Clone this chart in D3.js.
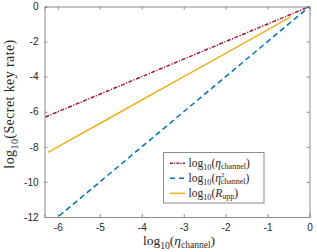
<!DOCTYPE html>
<html>
<head>
<meta charset="utf-8">
<script src="https://cdn.jsdelivr.net/npm/d3@7"></script>
<style>
  body { margin: 0; background: #fff; }
  .tick text { font-family: "Liberation Sans", Arial, sans-serif; font-size: 10px; fill: #262626; }
  .math { font-family: "Liberation Serif", "DejaVu Serif", serif; fill: #262626; }
</style>
</head>
<body>
<div id="chart"></div>
<script>
// values (x = log10 eta)
var xTicks = [-6, -5, -4, -3, -2, -1, 0];
var yTicks = [-12, -10, -8, -6, -4, -2, 0];

var etaX   = [-6.3, -5, -4, -3, -2, -1, 0];
var etaY   = [-6.3, -5, -4, -3, -2, -1, 0];
var eta2X  = [-6.3, -5, -4, -3, -2, -1, 0];
var eta2Y  = [-12.6, -10, -8, -6, -4, -2, 0];
var ruppX  = [-6.24, -5, -4, -3, -2, -1, -0.44];
var ruppY  = [-8.32, -6.67, -5.33, -4.0, -2.67, -1.33, -0.58];

var W = 317, H = 252;
var margin = {top: 6.5, right: 7.5, bottom: 35, left: 44.5};
var width = W - margin.left - margin.right,
    height = H - margin.top - margin.bottom;

var xScale = d3.scaleLinear().domain([-6.32, 0]).range([0, width]);
var yScale = d3.scaleLinear().domain([-12, 0]).range([height, 0]);

var svg = d3.select("#chart").append("svg")
    .attr("width", W).attr("height", H);

var g = svg.append("g")
    .attr("transform", "translate(" + margin.left + "," + margin.top + ")");

g.append("clipPath").attr("id", "clip")
  .append("rect").attr("width", width).attr("height", height);

var axisColor = "#8c8c8c";
var fmt = function(d) { return String(d); };

// axes (ticks pointing inward, box on)
var xAxis = d3.axisBottom(xScale).tickValues(xTicks).tickSize(-3).tickPadding(7).tickFormat(fmt);
var yAxis = d3.axisLeft(yScale).tickValues(yTicks).tickSize(-3).tickPadding(6).tickFormat(fmt);

g.append("g").attr("transform", "translate(0," + height + ")").call(xAxis);
g.append("g").call(yAxis);
g.append("g").call(d3.axisTop(xScale).tickValues(xTicks).tickSize(-3).tickFormat(""));
g.append("g").attr("transform", "translate(" + width + ",0)")
  .call(d3.axisRight(yScale).tickValues(yTicks).tickSize(-3).tickFormat(""));
g.selectAll(".domain, .tick line").attr("stroke", axisColor);

var line = d3.line()
    .x(function(d) { return xScale(d[0]); })
    .y(function(d) { return yScale(d[1]); });

var series = [
  {x: etaX,  y: etaY,  color: "#A2142F", dash: "4,1.5,1.2,1.5"},
  {x: eta2X, y: eta2Y, color: "#0072BD", dash: "5.5,3.5"},
  {x: ruppX, y: ruppY, color: "#EDB120", dash: null}
];

series.forEach(function(s) {
  g.append("path")
    .datum(d3.zip(s.x, s.y))
    .attr("clip-path", "url(#clip)")
    .attr("fill", "none")
    .attr("stroke", s.color)
    .attr("stroke-width", 1.5)
    .attr("stroke-dasharray", s.dash)
    .attr("d", line);
});

// legend
var leg = svg.append("g").attr("transform", "translate(163.5,152.5)");
leg.append("rect").attr("width", 100.5).attr("height", 50.5)
  .attr("fill", "#fff").attr("stroke", axisColor).attr("stroke-width", 1);

function logLabel(sel, size) {
  sel.append("tspan").text("log");
  sel.append("tspan").attr("font-size", size * 0.72).attr("dy", size * 0.3).text("10");
  sel.append("tspan").attr("dy", -size * 0.3).text("(");
}

[0, 1, 2].forEach(function(i) {
  var y = 10.8 + i * 15;
  var s = series[i];
  leg.append("line").attr("x1", 6.5).attr("x2", 21.5).attr("y1", y).attr("y2", y)
    .attr("stroke", s.color).attr("stroke-width", 1.5)
    .attr("stroke-dasharray", i === 0 ? "3,1.2,1,1.2" : (i === 1 ? "5,4" : null));
  var t = leg.append("text").attr("class", "math").attr("x", 25).attr("y", y + 3.5)
    .attr("font-size", 11.5);
  logLabel(t, 11.5);
  if (i === 2) {
    t.append("tspan").attr("font-style", "italic").text("R");
    t.append("tspan").attr("font-size", 8).attr("dy", 2.5).text("upp");
    t.append("tspan").attr("dy", -2.5).text(")");
  } else {
    t.append("tspan").attr("font-style", "italic").text("η");
    if (i === 1) {
      t.append("tspan").attr("font-size", 7).attr("dy", -4.5).text("2");
      t.append("tspan").attr("font-size", 8).attr("dx", -3.9).attr("dy", 7).text("channel");
      t.append("tspan").attr("dy", -2.5).text(")");
    } else {
      t.append("tspan").attr("font-size", 8).attr("dy", 2.5).text("channel");
      t.append("tspan").attr("dy", -2.5).text(")");
    }
  }
});

// x label
var xl = svg.append("text").attr("class", "math").attr("text-anchor", "middle")
  .attr("x", 179).attr("y", 245).attr("font-size", 13.5);
logLabel(xl, 13.5);
xl.append("tspan").attr("font-style", "italic").text("η");
xl.append("tspan").attr("font-size", 9.5).attr("dy", 3).text("channel");
xl.append("tspan").attr("dy", -3).text(")");

// y label
var yl = svg.append("text").attr("class", "math").attr("text-anchor", "middle")
  .attr("transform", "translate(14,104) rotate(-90)")
  .attr("font-size", 14).attr("letter-spacing", 0.4);
logLabel(yl, 14);
yl.append("tspan").text("Secret key rate)");
</script>
</body>
</html>
